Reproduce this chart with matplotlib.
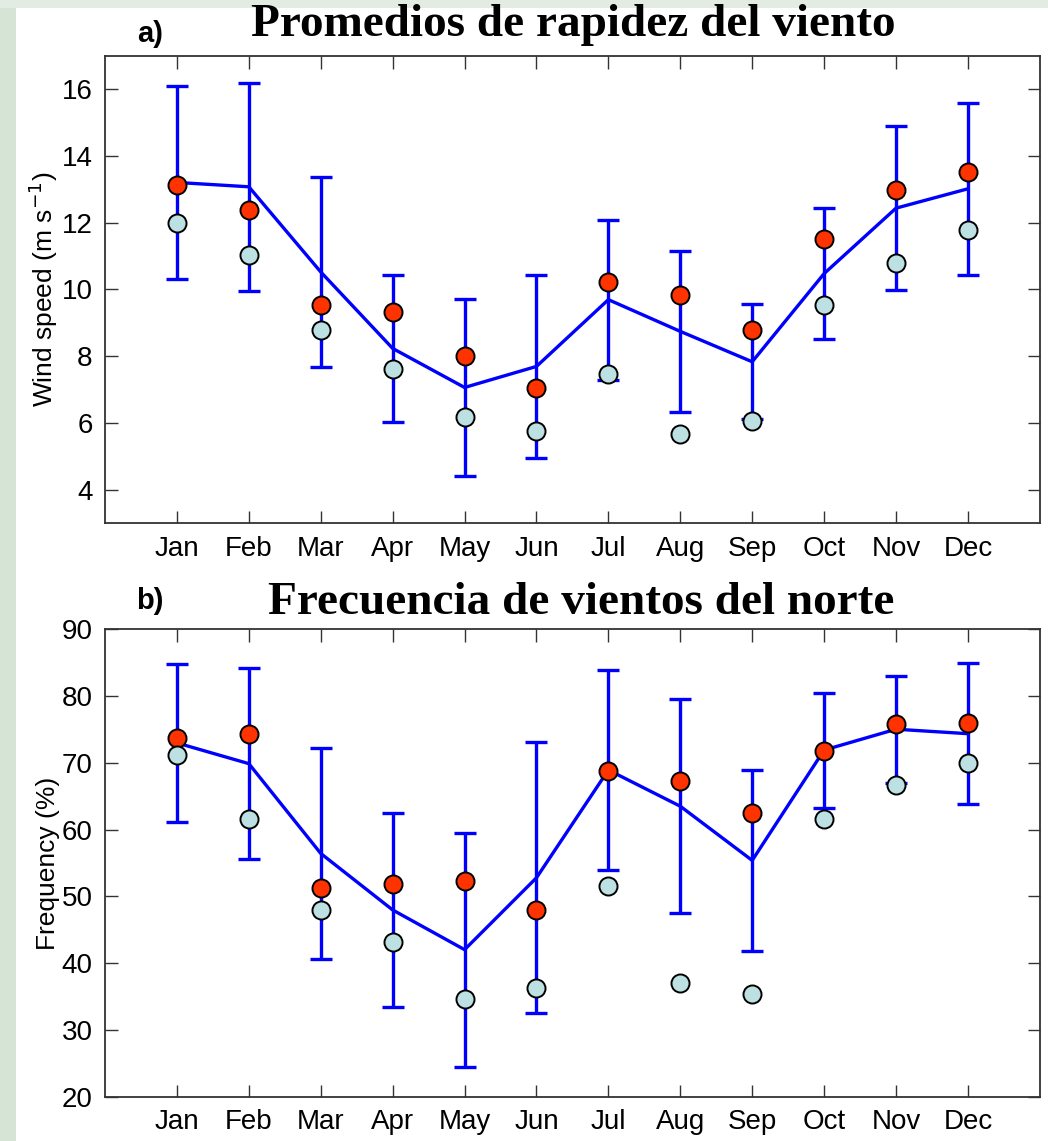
import numpy as np
import matplotlib.pyplot as plt
from matplotlib.patches import Rectangle

# ==============================
# Data
# ==============================
months = ["Jan", "Feb", "Mar", "Apr", "May", "Jun",
          "Jul", "Aug", "Sep", "Oct", "Nov", "Dec"]

# a) wind speed (m/s)
speed_mean = [13.2, 13.07, 10.52, 8.23, 7.06, 7.69, 9.69, 8.74, 7.83, 10.47, 12.43, 13.01]
speed_err = [2.9, 3.12, 2.85, 2.21, 2.64, 2.75, 2.4, 2.4, 1.72, 1.96, 2.45, 2.58]
speed_red = [13.11, 12.36, 9.54, 9.32, 7.99, 7.04, 10.21, 9.84, 8.77, 11.52, 12.97, 13.52]
speed_cyan = [11.99, 11.03, 8.79, 7.62, 6.19, 5.77, 7.47, 5.66, 6.07, 9.54, 10.79, 11.77]

# b) frequency of northerly winds (%)
freq_mean = [72.95, 69.85, 56.42, 47.97, 42.03, 52.78, 68.9, 63.48, 55.38, 71.88, 75.0, 74.33]
freq_err = [11.77, 14.3, 15.78, 14.56, 17.5, 20.28, 15.03, 16.0, 13.54, 8.6, 8.0, 10.55]
freq_red = [73.65, 74.24, 51.3, 51.81, 52.35, 47.97, 68.81, 67.31, 62.52, 71.8, 75.74, 75.98]
freq_cyan = [71.15, 61.53, 47.92, 43.13, 34.66, 36.25, 51.56, 37.1, 35.36, 61.58, 66.66, 69.91]

x = np.arange(1, 13)

fig = plt.figure(figsize=(10.48, 11.41), dpi=100, facecolor="white")
# slide-like green edge
fig.patches.append(Rectangle((0, 0), 0.015, 1, transform=fig.transFigure,
                             facecolor="#d6e4d6", edgecolor="none", zorder=0))
fig.patches.append(Rectangle((0, 0.993), 1, 0.007, transform=fig.transFigure,
                             facecolor="#e3ece3", edgecolor="none", zorder=0))

ax1 = fig.add_axes([0.1002, 0.5416, 0.892, 0.4097])
ax2 = fig.add_axes([0.1002, 0.0386, 0.892, 0.4102])


def draw_panel(ax, mean, err, red, cyan):
    ax.errorbar(x, mean, yerr=err, color="#0000ff", lw=2.4, capsize=8,
                capthick=2.4, zorder=2)
    ax.plot(x, red, "o", ms=13, mfc="#ff3300", mec="black", mew=1.4, zorder=3)
    ax.plot(x, cyan, "o", ms=13, mfc="#bde0e2", mec="black", mew=1.4, zorder=3)
    ax.set_xlim(0, 13)
    ax.set_xticks(x)
    ax.set_xticklabels(months)
    ax.tick_params(direction="in", length=9, width=1, top=True, right=True,
                   labelsize=20, pad=9, color="#333333")
    for s in ax.spines.values():
        s.set_linewidth(1.3)
        s.set_color("#333333")


draw_panel(ax1, speed_mean, speed_err, speed_red, speed_cyan)
ax1.set_ylim(3, 17)
ax1.set_yticks([4, 6, 8, 10, 12, 14, 16])
ax1.set_ylabel("Wind speed (m s$^{-1}$)", fontsize=19, labelpad=1)

draw_panel(ax2, freq_mean, freq_err, freq_red, freq_cyan)
ax2.set_ylim(20, 90)
ax2.set_yticks([20, 30, 40, 50, 60, 70, 80, 90])
ax2.set_ylabel("Frequency (%)", fontsize=19, labelpad=1)

for ax in (ax1, ax2):
    for lab in ax.get_xticklabels() + ax.get_yticklabels():
        lab.set_family("Liberation Sans")
    ax.yaxis.label.set_family("Liberation Sans")

# Panel titles
fig.text(150 / 1048, 1 - 34 / 1141, "a)", fontsize=21, fontweight="bold",
         family="Liberation Sans", ha="center", va="center")
fig.text(573 / 1048, 1 - 25 / 1141, "Promedios de rapidez del viento", fontsize=34,
         fontweight="bold", family="Liberation Serif", ha="center", va="center")
fig.text(150 / 1048, 1 - 601 / 1141, "b)", fontsize=21, fontweight="bold",
         family="Liberation Sans", ha="center", va="center")
fig.text(581 / 1048, 1 - 603 / 1141, "Frecuencia de vientos del norte", fontsize=34,
         fontweight="bold", family="Liberation Serif", ha="center", va="center")

plt.savefig("out.png", dpi=100, facecolor=fig.get_facecolor())
